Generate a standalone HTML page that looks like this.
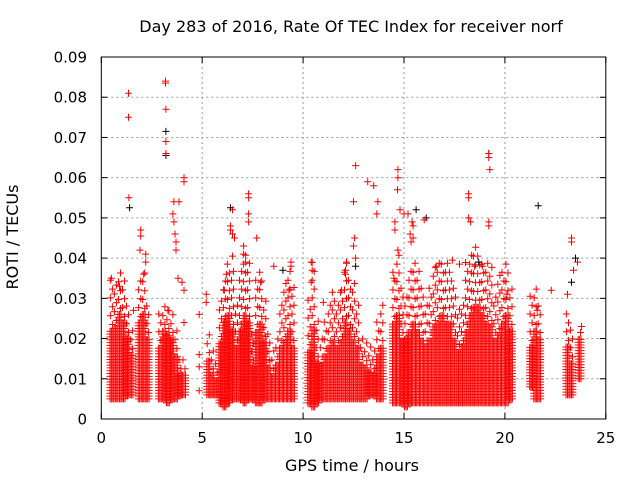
<!DOCTYPE html>
<html><head><meta charset="utf-8"><style>
html,body{margin:0;padding:0;background:#fff;}
svg{display:block;font-family:"DejaVu Sans","Liberation Sans",sans-serif;}
</style></head><body>
<svg id="chart" width="640" height="480" viewBox="0 0 640 480">
<text x="351" y="32" text-anchor="middle" font-size="16">Day 283 of 2016, Rate Of TEC Index for receiver norf</text>
<text x="352" y="471" text-anchor="middle" font-size="16">GPS time / hours</text>
<text transform="translate(18,237) rotate(-90)" text-anchor="middle" font-size="16">ROTI / TECUs</text>
<g id="grid"></g>
<g id="ticks"></g>
<g id="marks"></g>
<rect x="101.3" y="57" width="504.5" height="362" fill="none" stroke="#000" stroke-width="1"/>
</svg>
<script>
// dense envelope: bins of 0.2 h, values in 0.001 TECU/min
const binStart = [0.4,0.6,0.8,1.0,1.2,1.4,1.8,2.0,2.2,2.8,3.0,3.2,3.4,3.6,3.8,4.0,5.2,5.4,5.6,5.8,6.0,6.2,6.4,6.6,6.8,7.0,7.2,7.4,7.6,7.8,8.0,8.2,8.4,8.6,8.8,9.0,9.2,9.4,10.2,10.4,10.6,10.8,11.0,11.2,11.4,11.6,11.8,12.0,12.2,12.4,12.6,12.8,13.0,13.2,13.4,13.6,13.8,14.4,14.6,14.8,15.0,15.2,15.4,15.6,15.8,16.0,16.2,16.4,16.6,16.8,17.0,17.2,17.4,17.6,17.8,18.0,18.2,18.4,18.6,18.8,19.0,19.2,19.4,19.6,19.8,20.0,20.2,21.2,21.4,21.6,23.0,23.2,23.6];
const binLow  = [5,5,5,5,6,6,5,5,5,5,5,4,5,5,6,6,6,6,6,4,3,4,5,5,5,4,5,5,4,4,5,5,5,5,5,5,5,5,4,3,4,5,5,5,5,5,5,5,5,5,5,5,5,6,6,5,5,4,4,4,3,4,4,4,4,4,4,4,4,4,4,4,4,4,4,4,4,4,4,4,4,4,4,4,4,4,5,8,5,5,6,6,10];
const binHigh = [22,23,26,24,20,16,24,26,20,18,22,21,20,16,11,11,15,11,10,19,24,26,22,18,22,26,24,13,22,24,19,13,11,14,18,19,22,18,17,22,14,14,16,18,19,18,19,24,22,19,18,14,13,12,11,16,18,24,26,20,20,22,24,22,20,18,20,23,24,26,24,24,20,17,18,22,26,28,28,26,24,23,20,21,24,26,22,18,22,20,18,14,20];
// upper limit of scattered (non-dense) points per bin
const binMax  = [35,34,37,35,30,24,36,38,30,27,30,29,28,24,16,16,21,17,14,30,36,40,37,30,38,42,40,22,36,38,30,22,17,22,30,34,38,33,30,39,25,22,26,30,33,30,33,40,36,34,30,22,20,18,17,25,30,38,42,33,32,38,40,37,33,30,33,38,40,40,40,38,33,28,30,40,41,44,42,40,40,38,32,36,38,39,34,32,33,30,28,24,23];
// sparse red points
const redT = [1.35,1.35,1.37,1.95,1.95,1.92,2.2,2.2,3.18,3.18,3.2,3.2,3.2,3.6,3.55,3.6,3.65,3.7,3.7,4.1,4.1,3.85,3.8,4.0,4.1,4.1,4.85,4.85,4.85,4.85,6.5,6.4,6.4,6.5,6.6,6.5,7.3,7.3,7.3,7.3,7.7,7.05,7.05,7.15,8.55,5.2,5.2,6.1,9.4,9.4,10.4,10.45,10.4,11.0,12.15,12.1,12.5,12.6,12.55,12.5,12.6,13.2,13.7,13.5,13.65,14.7,14.7,14.68,14.8,15.2,15.0,15.4,15.45,15.45,14.55,14.55,14.7,15.3,15.35,18.2,18.2,18.2,18.3,19.2,19.2,19.25,19.2,19.2,23.3,23.3,23.4,23.6,22.3,17.75,17.4,16.0,0.5,0.9,1.6,2.1,3.3,6.2,7.9,9.3,11.9,12.1,14.5,16.6,18.5,18.9,20.1,21.6,23.1,23.8];
const redV = [81,75,55,47,45.5,42,41,39,84,83.5,77,69,66,54,51,49,46,44,42,60,59,54,35,34,32,24,7,13,16,26,52,48,47,46,45,40.5,56,55,51,49,45,43,41,39,38,31,29,32,39,38,39,37,34,29,39,36,54,63,45,43,40,59,54,58,51,62,60,57,52,51,51,49,48,45,49,47,42,46,44,56,55,50,49,66,65,62,49,48,45,44,37,39,32,38.5,39.5,49.5,35,33,27,36,27,36,34,32,32,37,35,38,38,38,31,27,31,23];
// sparse black points
const blkT = [3.2,3.2,1.4,6.4,15.6,21.65,23.3,23.5,9.0,18.7,16.1,12.6,19.2];
const blkV = [71.5,65.5,52.5,52.5,52,53,34,40,37,39,50,38,66];
const xTicks = [0,5,10,15,20,25];
const yTicks = [0,0.01,0.02,0.03,0.04,0.05,0.06,0.07,0.08,0.09];
const yTickLabels = ["0","0.01","0.02","0.03","0.04","0.05","0.06","0.07","0.08","0.09"];

const X0=101.3,X1=605.8,Y0=419,Y1=57;
const xs=h=>X0+(X1-X0)*h/25;
const ys=v=>Y0-(Y0-Y1)*v/0.09;
const NS='http://www.w3.org/2000/svg';
function mk(tag,attrs,parent){const e=document.createElementNS(NS,tag);for(const k in attrs)e.setAttribute(k,attrs[k]);parent.appendChild(e);return e;}
const grid=document.getElementById('grid'),ticks=document.getElementById('ticks'),marks=document.getElementById('marks');
xTicks.forEach((t,i)=>{
  const x=xs(t);
  if(i>0&&i<xTicks.length-1){const g=mk('line',{x1:x,x2:x,y1:Y0,y2:Y1,stroke:'#999','stroke-dasharray':'2,3'},grid);
    
    }
  mk('line',{x1:x,x2:x,y1:Y0,y2:Y0-6,stroke:'#000'},ticks);
  mk('line',{x1:x,x2:x,y1:Y1,y2:Y1+6,stroke:'#000'},ticks);
  const l=mk('text',{x:x,y:443,'text-anchor':'middle','font-size':15},ticks);l.textContent=t;
  
  
});
yTicks.forEach((t,i)=>{
  const y=ys(t);
  if(i>0&&i<yTicks.length-1){const g=mk('line',{x1:X0,x2:X1,y1:y,y2:y,stroke:'#999','stroke-dasharray':'2,3'},grid);
    
    }
  mk('line',{x1:X0,x2:X0+6,y1:y,y2:y,stroke:'#000'},ticks);
  mk('line',{x1:X1,x2:X1-6,y1:y,y2:y,stroke:'#000'},ticks);
  const l=mk('text',{x:87,y:y+5.5,'text-anchor':'end','font-size':15},ticks);l.textContent=yTickLabels[i];
  
  
});
function cross(x,y){return 'M'+(x-3.5).toFixed(1)+' '+y.toFixed(1)+'h7M'+x.toFixed(1)+' '+(y-3.5).toFixed(1)+'v7';}
let dense='';
binStart.forEach((h,i)=>{
  const lo=binLow[i]/1000,hi=binHigh[i]/1000,mx=binMax[i]/1000;
  [0.03,0.1,0.17].forEach(o=>{
    for(let v=lo;v<=hi+1e-9;v+=0.0007){dense+=cross(xs(h+o),ys(v));}
  });
  let k=0;
  for(let v=hi+0.0015;v<=mx+1e-9;v+=0.0022){dense+=cross(xs(h+(k%2?0.05:0.15)),ys(v));k++;}
});
const d=mk('path',{d:dense,stroke:'#f00','stroke-width':1,fill:'none'},marks);


let bp='';blkT.forEach((h,i)=>{bp+=cross(xs(h),ys(blkV[i]/1000));});
const b=mk('path',{d:bp,stroke:'#000','stroke-width':1,fill:'none'},marks);


let rp='';redT.forEach((h,i)=>{rp+=cross(xs(h),ys(redV[i]/1000));});
const r=mk('path',{d:rp,stroke:'#f00','stroke-width':1,fill:'none'},marks);


</script>
</body></html>
